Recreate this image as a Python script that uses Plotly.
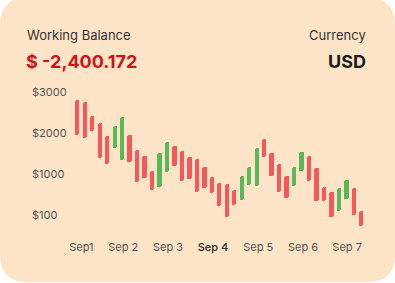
import plotly.graph_objects as go

# ---- data ----
opens = [2810, 2755, 2430, 2250, 1930, 1645, 1345, 1955, 1590, 1445,
         1085, 690, 1060, 1680, 1570, 1420, 1370, 1165, 935, 790,
         750, 610, 365, 735, 715, 1850, 1525, 1245, 960, 710,
         1075, 1445, 1140, 675, 570, 100, 385, 655, 105]
closes = [1955, 1875, 2055, 1400, 1255, 2175, 2390, 1290, 800, 910,
          610, 1525, 1780, 1200, 830, 875, 570, 655, 545, 225,
          -40, 245, 955, 1180, 1645, 1425, 960, 555, 425, 1165,
          1550, 840, 340, 340, -50, 655, 865, 0, -270]
day_labels = ["Sep1", "Sep 2", "Sep 3", "Sep 4", "Sep 5", "Sep 6", "Sep 7"]
day_pos = [0.55, 6.15, 12.15, 18.15, 24.2, 30.2, 36.1]
y_ticks = [3000, 2000, 1000, 0]
y_ticktext = ["$3000", "$2000", "$1000", "$100"]
highlight_day = "Sep 4"

# ---- geometry ----
W, H = 395, 283
ML, MR, MT, MB = 60, 20, 80, 50
PW, PH = W - ML - MR, H - MT - MB

def px(x):
    return (x - ML) / PW

def py(y):
    return (H - MB - y) / PH

RED = "#F2585C"
GREEN = "#5BB85A"
CARD = "#FEE4C6"
FONT = "Inter, Roboto, sans-serif"

idx = list(range(len(opens)))
base = [min(o, c) for o, c in zip(opens, closes)]
length = [abs(c - o) for o, c in zip(opens, closes)]
colors = [GREEN if c > o else RED for o, c in zip(opens, closes)]

fig = go.Figure()
fig.add_trace(go.Bar(
    x=idx, y=length, base=base,
    marker=dict(color=colors, cornerradius=2, line=dict(width=0)),
    width=0.58, hoverinfo="skip", showlegend=False,
))

ticktext = [
    (f"<span style='color:#2a2a2a;font-weight:500'>{d}</span>" if d == highlight_day else d)
    for d in day_labels
]

# rounded card
x0, x1 = px(0), px(395)
y0, y1 = py(282), py(-2)
r = 27
rx, ry = r / PW, r / PH
path = (f"M {x0+rx},{y1} L {x1-rx},{y1} Q {x1},{y1} {x1},{y1-ry} "
        f"L {x1},{y0+ry} Q {x1},{y0} {x1-rx},{y0} "
        f"L {x0+rx},{y0} Q {x0},{y0} {x0},{y0+ry} "
        f"L {x0},{y1-ry} Q {x0},{y1} {x0+rx},{y1} Z")

annotations = [
    dict(text="Working Balance", x=px(24.5), y=py(35), xanchor="left", yanchor="middle",
         font=dict(size=13, color="#333333", family=FONT)),
    dict(text="<b>$ -2,400.172</b>", x=px(24), y=py(61.5), xanchor="left", yanchor="middle",
         font=dict(size=18, color="#D0121D", family=FONT)),
    dict(text="Currency", x=px(368), y=py(35), xanchor="right", yanchor="middle",
         font=dict(size=13, color="#333333", family=FONT)),
    dict(text="<b>USD</b>", x=px(368), y=py(61.5), xanchor="right", yanchor="middle",
         font=dict(size=18, color="#1A1A1A", family=FONT)),
]
for v, t in zip(y_ticks, y_ticktext):
    annotations.append(dict(text=t, x=px(30), xref="paper", y=v, yref="y",
                            xanchor="left", yanchor="middle", showarrow=False,
                            font=dict(size=11, color="#555555", family=FONT)))
for a in annotations:
    a.setdefault("xref", "paper")
    a.setdefault("yref", "paper")
    a["showarrow"] = False

fig.update_layout(
    width=W, height=H,
    margin=dict(l=ML, r=MR, t=MT, b=MB),
    paper_bgcolor="white", plot_bgcolor="rgba(0,0,0,0)",
    font=dict(family=FONT),
    shapes=[dict(type="path", path=path, xref="paper", yref="paper",
                 fillcolor=CARD, line=dict(width=0), layer="below")],
    annotations=annotations,
    xaxis=dict(range=[-2.315, 39.83], tickvals=day_pos, ticktext=ticktext,
               showgrid=False, zeroline=False, showline=False, ticks="",
               tickfont=dict(size=11, color="#555555", family=FONT),
               ticklabelstandoff=6, fixedrange=True),
    yaxis=dict(range=[-440, 3300], showticklabels=False, showgrid=False,
               zeroline=False, showline=False, ticks="", fixedrange=True),
    bargap=0,
)

fig.write_html("out.html")
